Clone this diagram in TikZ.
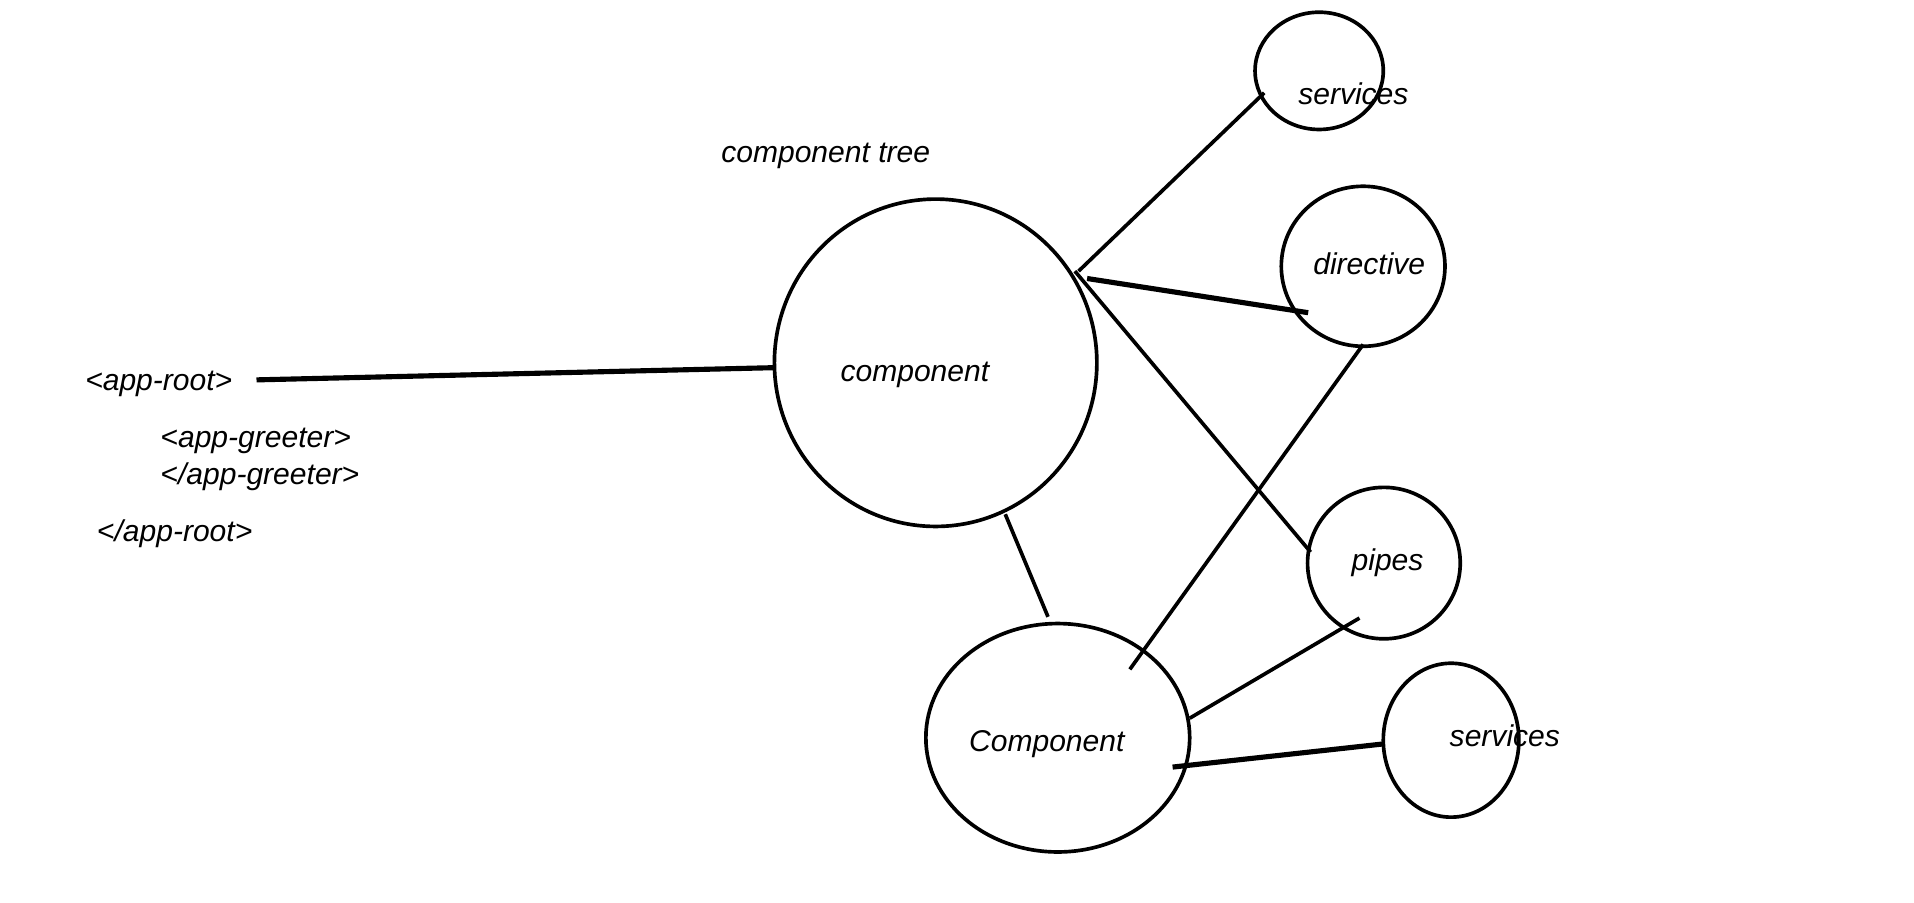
\documentclass[tikz,border=0pt]{standalone}
\usepackage{fontspec}
\setmainfont{Liberation Sans}
\usetikzlibrary{shapes.geometric}
\begin{document}
\begin{tikzpicture}[x=0.5pt,y=-0.5pt,
  blob/.style={draw,ellipse,line width=1.5pt,inner sep=0pt,outer sep=0pt},
  lbl/.style={font=\fontsize{12.3}{14}\selectfont\itshape,inner sep=0pt,anchor=center},
  thin/.style={line width=1.5pt},
  thick/.style={line width=2.1pt}]
\useasboundingbox (0,0) rectangle (1567,739);
% circles
\node[blob,minimum width=132pt,minimum height=134pt] (comp) at (766,297) {};
\node[blob,minimum width=52.5pt,minimum height=48pt] (servA) at (1080,58) {};
\node[blob,minimum width=67pt,minimum height=65.5pt] (dir) at (1116,218) {};
\node[blob,minimum width=62.5pt,minimum height=62pt] (pipes) at (1133,461) {};
\node[blob,minimum width=108pt,minimum height=93.5pt] (Comp) at (866,604) {};
\node[blob,minimum width=55.5pt,minimum height=63pt] (servB) at (1188,606) {};
% labels
\node[lbl] (tServA) at (1108,77) {services};
\node[lbl] (tTree) at (676,128) {component tree};
\node[lbl] (tDir) at (1121,216) {directive};
\node[lbl] (tComp) at (749,307) {component};
\node[lbl] (tPipes) at (1136,461) {pipes};
\node[lbl] (tCompB) at (857,609) {Component};
\node[lbl] (tServB) at (1232,602) {services};
\node[lbl] (root) at (130,314) {<app-root>};
\node[lbl,anchor=west] (greet) at (131,361) {<app-greeter>};
\node[lbl,anchor=west] (greetEnd) at (131,390) {</app-greeter>};
\node[lbl] (rootEnd) at (143,437) {</app-root>};
% connector end points
\coordinate (rootR) at (210,311);
\coordinate (compL) at (634,301);
\coordinate (compA) at (883,222);
\coordinate (servAL) at (1035,76);
\coordinate (compB) at (890,228);
\coordinate (dirIn) at (1071,256);
\coordinate (compC) at (880,222);
\coordinate (pipesL) at (1073,452);
\coordinate (compBot) at (823,421);
\coordinate (CompTop) at (858,505);
\coordinate (dirBot) at (1116,282);
\coordinate (CompIn) at (925,548);
\coordinate (pipesIn) at (1113,506);
\coordinate (CompR) at (974,588);
\coordinate (CompIn2) at (960,628);
\coordinate (servBL) at (1133,609);
% connectors
\draw[thick] (rootR) -- (compL);
\draw[thin] (compA) -- (servAL);
\draw[thick] (compB) -- (dirIn);
\draw[thin] (compC) -- (pipesL);
\draw[thin] (compBot) -- (CompTop);
\draw[thin] (dirBot) -- (CompIn);
\draw[thin] (pipesIn) -- (CompR);
\draw[thick] (CompIn2) -- (servBL);
\end{tikzpicture}
\end{document}
